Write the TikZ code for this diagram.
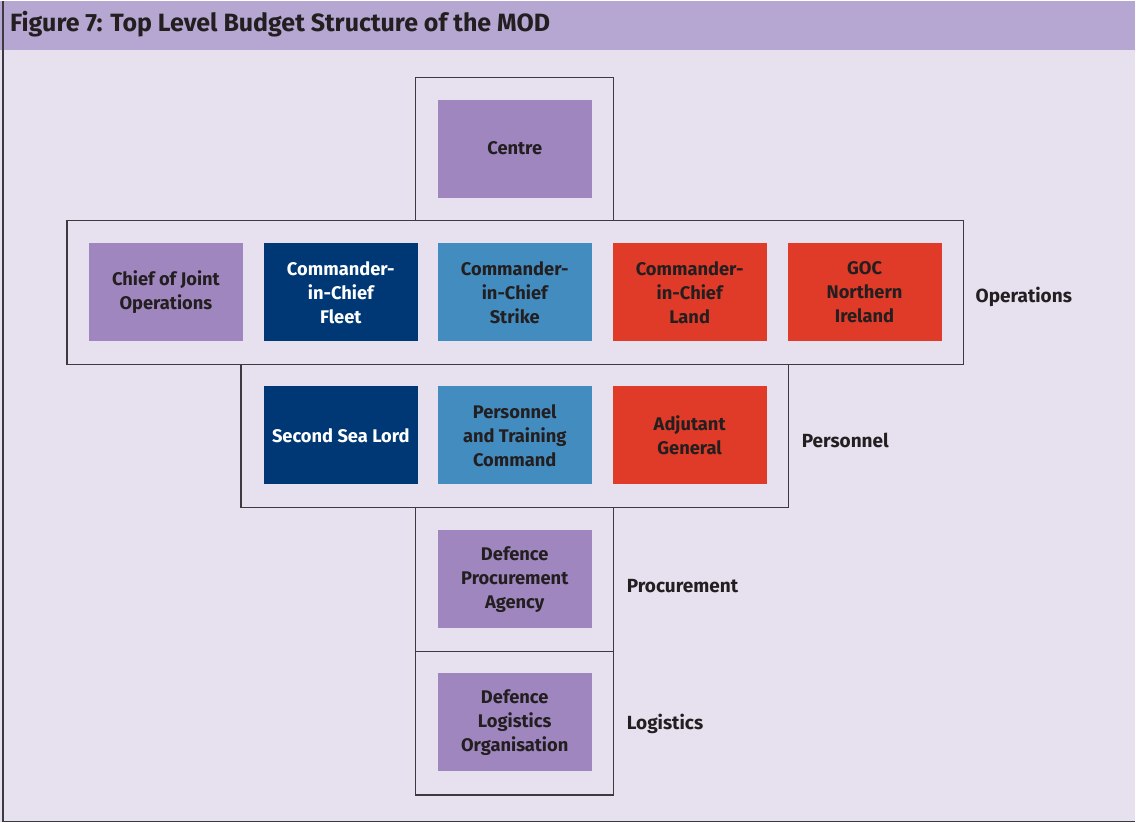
\documentclass[tikz,border=0pt]{standalone}
\usepackage{fontspec}
\setmainfont{Fira Sans}
\definecolor{pagebg}{HTML}{E6E0EF}
\definecolor{titlebar}{HTML}{B6A6D2}
\definecolor{lilac}{HTML}{A086BF}
\definecolor{navy}{HTML}{003876}
\definecolor{midblue}{HTML}{438CC0}
\definecolor{signal}{HTML}{E03A28}
\definecolor{ink}{HTML}{231F20}
\definecolor{rule}{HTML}{3C3A3E}
\tikzset{
  unit/.style={rectangle, minimum width=154pt, minimum height=98pt, inner sep=0pt,
    align=center, font=\fontsize{18.3}{24}\selectfont\bfseries, text=ink},
  purpleunit/.style={unit, fill=lilac},
  navyunit/.style={unit, fill=navy, text=white},
  blueunit/.style={unit, fill=midblue},
  redunit/.style={unit, fill=signal},
  group/.style={rectangle, draw=rule, line width=1.4pt, inner sep=0pt},
  grouplabel/.style={anchor=west, inner sep=0pt, font=\fontsize{19}{24}\selectfont\bfseries, text=ink}
}
\begin{document}
\begin{tikzpicture}[x=1pt, y=-1pt]
  % page and heading band
  \fill[pagebg] (0,0) rectangle (1136,822);
  \fill[titlebar] (0,0) rectangle (1136,49);
  \draw[rule, line width=1.2pt] (3,0) -- (3,821) -- (1136,821);
  \node[anchor=base west, inner sep=0pt, text=ink, font=\fontsize{25}{28}\selectfont\bfseries]
    (title) at (10,31) {Figure 7: Top Level Budget Structure of the MOD};

  % grouping frames
  \node[group, minimum width=198pt, minimum height=143pt] (centreframe) at (515,148.5) {};
  \node[group, minimum width=897pt, minimum height=144pt] (opsframe) at (515.5,292) {};
  \node[group, minimum width=548pt, minimum height=143pt] (persframe) at (515,435.5) {};
  \node[group, minimum width=198pt, minimum height=144pt] (procframe) at (515,579) {};
  \node[group, minimum width=198pt, minimum height=144pt] (logframe) at (515,723) {};

  % budget holders
  \node[purpleunit] (centre) at (515,148) {Centre};

  \node[purpleunit] (cjo)    at (166,292) {Chief of Joint\\Operations};
  \node[navyunit]   (fleet)  at (341,292) {Commander-\\in-Chief\\Fleet};
  \node[blueunit]   (strike) at (515,292) {Commander-\\in-Chief\\Strike};
  \node[redunit]    (land)   at (690,292) {Commander-\\in-Chief\\Land};
  \node[redunit]    (goc)    at (865,292) {GOC\\Northern\\Ireland};

  \node[navyunit]   (ssl)    at (341,435) {Second Sea Lord};
  \node[blueunit]   (ptc)    at (515,435) {Personnel\\and Training\\Command};
  \node[redunit]    (ag)     at (690,435) {Adjutant\\General};

  \node[purpleunit] (dpa)    at (515,579) {Defence\\Procurement\\Agency};
  \node[purpleunit] (dlo)    at (515,722) {Defence\\Logistics\\Organisation};

  % group names
  \node[grouplabel] (opslabel)  at (976,296) {Operations};
  \node[grouplabel] (perslabel) at (802,440) {Personnel};
  \node[grouplabel] (proclabel) at (627,586) {Procurement};
  \node[grouplabel] (loglabel)  at (627,724) {Logistics};
\end{tikzpicture}
\end{document}
